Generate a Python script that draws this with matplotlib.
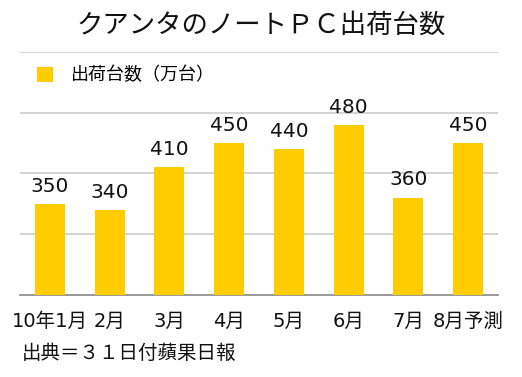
import matplotlib
matplotlib.use("Agg")
import matplotlib.pyplot as plt

plt.rcParams['font.family'] = ['Noto Sans CJK JP', 'DejaVu Sans']
num_font = ['DejaVu Sans', 'Noto Sans CJK JP']

months = ["10年1月", "2月", "3月", "4月", "5月", "6月", "7月", "8月予測"]
shipments = [350, 340, 410, 450, 440, 480, 360, 450]
series_name = "出荷台数（万台）"
title = "クアンタのノートＰＣ出荷台数"
source = "出典＝３１日付蘋果日報"

fig = plt.figure(figsize=(5.22, 3.77), dpi=100)
ax = fig.add_axes([20/522, 82/377, 478/522, 243/377])

x = list(range(len(months)))
bars = ax.bar(x, shipments, width=0.5, color="#FFCC00", label=series_name, zorder=3)

for xi, v in zip(x, shipments):
    ax.annotate(str(v), (xi, v), xytext=(0, 6), textcoords="offset points",
                ha="center", va="bottom", fontsize=14.5, color="#111111",
                family=num_font)

ax.set_xlim(-0.5, len(months) - 0.5)
ax.set_ylim(200, 600)
ax.set_yticks([300, 400, 500, 600])
ax.yaxis.grid(True, color="#cccccc", linewidth=1.2, zorder=0)
ax.tick_params(axis="y", left=False, labelleft=False)
ax.tick_params(axis="x", bottom=False, pad=9)
ax.set_xticks(x)
ax.set_xticklabels(months, fontsize=14, color="#111111", family=num_font)
for s in ["top", "left", "right"]:
    ax.spines[s].set_visible(False)
ax.spines["bottom"].set_color("#888888")
ax.spines["bottom"].set_linewidth(1.2)

ax.legend(loc="upper left", frameon=False, fontsize=13, handlelength=0.9,
          handleheight=0.9, handletextpad=1.0, borderaxespad=0,
          bbox_to_anchor=(0.02, 0.97))

fig.text(0.5, 1 - 25/377, title, ha="center", va="center", fontsize=19, color="#111111")
fig.text(22/522, 1 - 353/377, source, ha="left", va="center", fontsize=14, color="#111111")

fig.savefig("out.png", dpi=100)
